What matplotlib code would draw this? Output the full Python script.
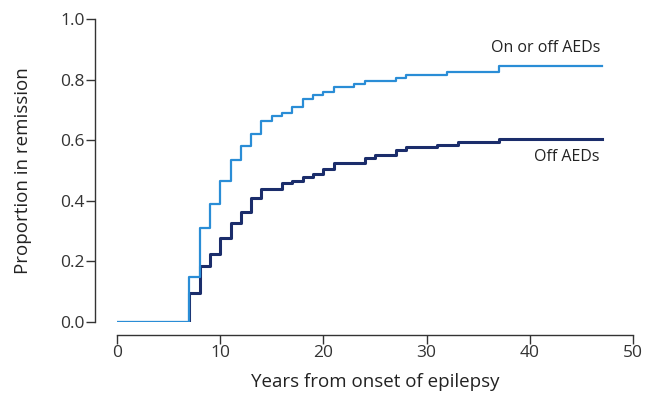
import matplotlib
matplotlib.use("Agg")
import matplotlib.pyplot as plt

# step times (years) and proportions after each step
any_years = [0, 7, 8, 9, 10, 11, 12, 13, 14, 15, 16, 17, 18, 19, 20, 21, 23, 24, 27, 28, 32, 37, 47]
any_remit = [0.0, 0.15, 0.31, 0.39, 0.465, 0.535, 0.58, 0.62, 0.665, 0.68, 0.69, 0.71, 0.735,
             0.748, 0.76, 0.775, 0.785, 0.795, 0.805, 0.815, 0.825, 0.845, 0.845]

off_years = [0, 7, 8, 9, 10, 11, 12, 13, 14, 16, 17, 18, 19, 20, 21, 24, 25, 27, 28, 31, 33, 37, 47]
off_remit = [0.0, 0.095, 0.185, 0.225, 0.277, 0.328, 0.364, 0.408, 0.438, 0.458, 0.466, 0.478,
             0.49, 0.505, 0.525, 0.54, 0.55, 0.568, 0.578, 0.585, 0.595, 0.605, 0.605]

xticks = [0, 10, 20, 30, 40, 50]
yticks = [0.0, 0.2, 0.4, 0.6, 0.8, 1.0]

plt.rcParams['font.family'] = ['Open Sans', 'DejaVu Sans']

fig = plt.figure(figsize=(6.46, 3.96), dpi=100)
ax = fig.add_axes([117/646, 1 - 322/396, 516/646, 303/396])

ax.step(off_years, off_remit, where='post', color='#1b2d6b', lw=2.2)
ax.step(any_years, any_remit, where='post', color='#2a8dd6', lw=1.6)

ax.set_xlim(0, 50)
ax.set_ylim(0, 1)
ax.set_xticks(xticks)
ax.set_yticks(yticks)
ax.set_yticklabels(['%.1f' % v for v in yticks])

for s in ['top', 'right']:
    ax.spines[s].set_visible(False)
# offsets are in points (dpi 100)
ax.spines['left'].set_position(('outward', 22 * 0.72))
ax.spines['bottom'].set_position(('outward', 13 * 0.72))
for s in ['left', 'bottom']:
    ax.spines[s].set_color('#333333')
    ax.spines[s].set_linewidth(1.0)
ax.tick_params(colors='#333333', labelsize=12.5, length=6.5, width=1.0)
ax.tick_params(axis='x', pad=1)
ax.tick_params(axis='y', pad=1)

ax.set_xlabel('Years from onset of epilepsy', fontsize=13.5, color='#222222', labelpad=8)
ax.set_ylabel('Proportion in remission', fontsize=13.5, color='#222222', labelpad=20)

ax.text(46.8, 0.905, 'On or off AEDs', ha='right', va='center', fontsize=11.5, color='#222222')
ax.text(46.8, 0.545, 'Off AEDs', ha='right', va='center', fontsize=11.5, color='#222222')

fig.savefig('out.png', dpi=100)
